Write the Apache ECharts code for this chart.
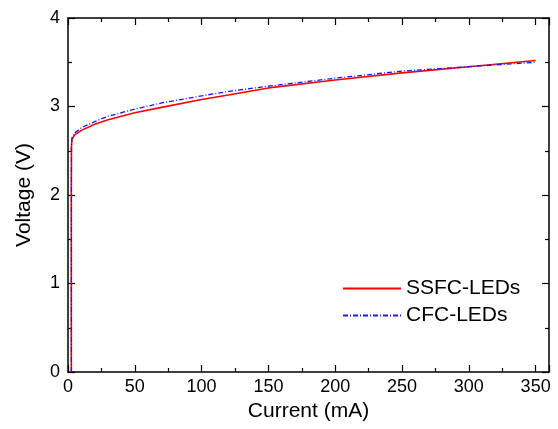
<!DOCTYPE html>
<html>
<head>
<meta charset="utf-8">
<script src="https://cdn.jsdelivr.net/npm/echarts@6/dist/echarts.min.js"></script>
<style>html,body{margin:0;padding:0;background:#fff}#c{width:558px;height:429px}</style>
</head>
<body>
<div id="c"></div>
<script>
const seriesNames = ['SSFC-LEDs', 'CFC-LEDs'];
const ssfcCurrent = [2.5, 2.5, 2.5, 2.6, 3, 5, 10, 20, 30, 50, 70, 100, 120, 150, 200, 250, 300, 350];
const ssfcVoltage = [0, 1.0, 2.0, 2.55, 2.63, 2.68, 2.73, 2.80, 2.85, 2.93, 2.99, 3.08, 3.13, 3.21, 3.30, 3.38, 3.45, 3.52];
const cfcCurrent = [2.5, 2.5, 2.5, 2.6, 3, 5, 10, 20, 30, 50, 70, 100, 120, 150, 200, 250, 300, 350];
const cfcVoltage = [0, 1.0, 2.0, 2.58, 2.65, 2.70, 2.76, 2.83, 2.89, 2.97, 3.04, 3.12, 3.17, 3.23, 3.32, 3.40, 3.45, 3.50];
const xTicks = [0, 50, 100, 150, 200, 250, 300, 350];
const yTicks = [0, 1, 2, 3, 4];

const pairs = (xs, ys) => xs.map((x, i) => [x, ys[i]]);
const FONT = 'Liberation Sans';
const axisCommon = () => ({
  axisLine: { show: true, onZero: false, lineStyle: { color: '#000', width: 1.5 } },
  axisTick: { show: true, inside: true, length: 7, lineStyle: { color: '#000', width: 1.2 } },
  minorTick: { show: true, splitNumber: 2, length: 4, lineStyle: { color: '#000', width: 1.2 } },
  splitLine: { show: false }
});
const chart = echarts.init(document.getElementById('c'));
chart.setOption({
  animation: false,
  backgroundColor: '#fff',
  grid: { left: 68, right: 9, top: 18, bottom: 57 },
  legend: {
    data: seriesNames.map(n => ({ name: n, itemStyle: { opacity: 0 } })),
    orient: 'vertical',
    left: 337, top: 273,
    itemWidth: 58, itemHeight: 14, itemGap: 6,
    textStyle: { fontFamily: FONT, fontSize: 21, color: '#000' }
  },
  xAxis: [
    Object.assign(axisCommon(), {
      type: 'value', min: 0, max: 360, interval: 50,
      name: 'Current (mA)', nameLocation: 'middle', nameGap: 29,
      nameTextStyle: { fontFamily: FONT, fontSize: 21, color: '#000' },
      axisLabel: { fontFamily: FONT, fontSize: 18, color: '#000', margin: 6,
        formatter: v => xTicks.includes(v) ? String(v) : '' }
    }),
    Object.assign(axisCommon(), {
      type: 'value', min: 0, max: 360, interval: 50, position: 'top',
      axisLabel: { show: false }
    })
  ],
  yAxis: [
    Object.assign(axisCommon(), {
      type: 'value', min: 0, max: 4, interval: 1,
      name: 'Voltage (V)', nameLocation: 'middle', nameGap: 33, nameRotate: 90,
      nameTextStyle: { fontFamily: FONT, fontSize: 21, color: '#000' },
      axisLabel: { fontFamily: FONT, fontSize: 18, color: '#000', margin: 8,
        formatter: v => yTicks.includes(v) ? String(v) : '' }
    }),
    Object.assign(axisCommon(), {
      type: 'value', min: 0, max: 4, interval: 1, position: 'right',
      axisLabel: { show: false }
    })
  ],
  series: [
    {
      name: seriesNames[0], type: 'line', showSymbol: false, symbol: 'none',
      data: pairs(ssfcCurrent, ssfcVoltage),
      lineStyle: { color: '#ff0000', width: 1.6 }, itemStyle: { color: '#ff0000' }, z: 3
    },
    {
      name: seriesNames[1], type: 'line', showSymbol: false, symbol: 'none',
      data: pairs(cfcCurrent, cfcVoltage),
      lineStyle: { color: '#1a1aff', width: 1.3, type: [5, 2, 1, 2] }, itemStyle: { color: '#1a1aff' }, z: 4
    }
  ]
});
</script>
</body>
</html>
